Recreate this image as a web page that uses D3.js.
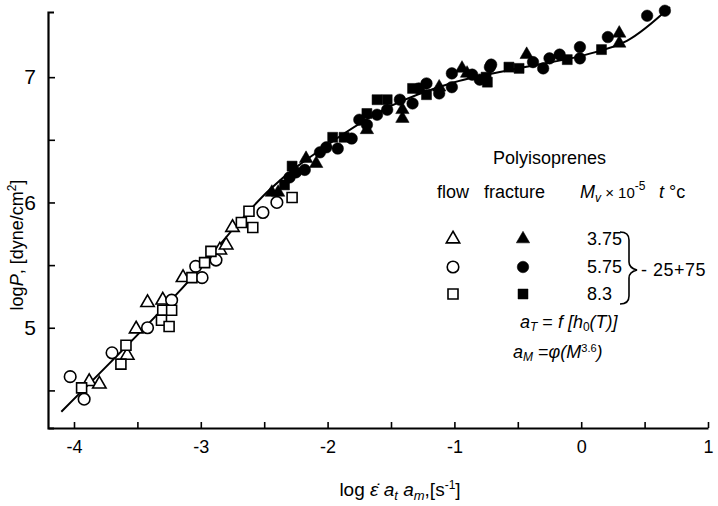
<!DOCTYPE html>
<html><head><meta charset="utf-8">
<script src="https://cdn.jsdelivr.net/npm/d3@7"></script>
<style>
html,body{margin:0;padding:0;background:#fff;}
text{font-family:"Liberation Sans","DejaVu Sans",sans-serif;fill:#000;}
</style></head>
<body>
<svg id="c" width="718" height="506"></svg>
<script>
// ---- data (log strain rate, log stress) ----
const xTicks = [-4,-3.5,-3,-2.5,-2,-1.5,-1,-0.5,0,0.5,1];
const yTicks = [4.5,5,5.5,6,6.5,7];

const flowTriangles = [[-3.88,4.57],[-3.80,4.55],[-3.58,4.78],[-3.51,4.99],[-3.42,5.20],[-3.30,5.22],
  [-3.14,5.40],[-2.85,5.62],[-2.80,5.66],[-2.75,5.80]];
const flowCircles = [[-4.03,4.61],[-3.92,4.43],[-3.70,4.80],[-3.42,5.00],[-3.23,5.22],[-2.99,5.40],
  [-3.04,5.49],[-2.88,5.54],[-2.51,5.92],[-2.40,6.00]];
const flowSquares = [[-3.94,4.52],[-3.59,4.86],[-3.63,4.71],[-3.30,5.14],[-3.23,5.14],[-3.31,5.06],
  [-3.25,5.01],[-3.07,5.40],[-2.97,5.52],[-2.92,5.61],[-2.68,5.84],[-2.59,5.80],[-2.62,5.93],[-2.28,6.04]];

const fracTriangles = [[-2.44,6.08],[-2.39,6.08],[-2.17,6.35],[-2.09,6.31],[-1.69,6.58],[-1.41,6.74],
  [-1.41,6.67],[-1.12,6.92],[-0.94,7.07],[-0.90,7.03],[-0.43,7.18],[0.30,7.35],[0.30,7.27]];
const fracCircles = [[-2.30,6.20],[-2.25,6.24],[-2.18,6.26],[-2.06,6.40],[-2.01,6.44],[-1.92,6.43],
  [-1.81,6.51],[-1.75,6.66],[-1.69,6.62],[-1.61,6.70],[-1.53,6.74],[-1.43,6.82],[-1.33,6.79],
  [-1.28,6.91],[-1.22,6.95],[-1.12,6.87],[-1.02,7.03],[-1.02,6.92],[-0.86,7.02],[-0.80,6.98],
  [-0.72,7.08],[-0.71,7.10],[-0.38,7.12],[-0.30,7.07],[-0.25,7.15],[-0.17,7.18],[-0.01,7.24],
  [-0.01,7.15],[0.21,7.32],[0.52,7.49],[0.66,7.53]];
const fracSquares = [[-2.34,6.14],[-2.28,6.29],[-1.96,6.52],[-1.87,6.52],[-1.69,6.71],[-1.61,6.82],
  [-1.53,6.82],[-1.33,6.91],[-1.22,6.86],[-0.75,7.00],[-0.74,6.96],[-0.57,7.08],[-0.49,7.07],
  [-0.11,7.14],[0.16,7.22]];

const masterCurve = [[-4.10,4.33],[-3.17,5.29],[-2.46,6.10],[-2.00,6.46],[-1.50,6.77],[-1.00,6.96],
  [-0.50,7.07],[0.00,7.17],[0.36,7.29],[0.70,7.56]];

const legendMw = ["3.75","5.75","8.3"];

// ---- drawing ----
const svg = d3.select("#c");
svg.append("rect").attr("width",718).attr("height",506).attr("fill","#fff");

const x = d3.scaleLinear().domain([-4.205,1]).range([48,708]);
const y = d3.scaleLinear().domain([4.2,7.52]).range([428,12]);

const fmt = d => Number.isInteger(d) ? (d<0 ? "-"+Math.abs(d) : String(d)) : "";

const gx = svg.append("g").attr("transform","translate(0,428)")
  .call(d3.axisBottom(x).tickValues(xTicks).tickSizeInner(-6).tickSizeOuter(0).tickPadding(12).tickFormat(fmt));
const gy = svg.append("g").attr("transform","translate(48,0)")
  .call(d3.axisLeft(y).tickValues(yTicks).tickSizeInner(-7).tickSizeOuter(-6).tickPadding(10).tickFormat(fmt));
[gx,gy].forEach(g=>{
  g.select(".domain").attr("stroke","#000").attr("stroke-width",2.2);
  g.selectAll(".tick line").attr("stroke","#000").attr("stroke-width",1.6);
  g.selectAll(".tick text").style("font-family","'Liberation Sans',sans-serif");
});
gx.selectAll(".tick text").attr("font-size",18).attr("dy","0.71em");
gy.selectAll(".tick text").attr("font-size",21).attr("dx","-2");

// master curve
svg.append("path").datum(masterCurve)
  .attr("d", d3.line().x(d=>x(d[0])).y(d=>y(d[1])).curve(d3.curveCatmullRom))
  .attr("fill","none").attr("stroke","#000").attr("stroke-width",2);

const sym = {
  tri: d3.symbol().type(d3.symbolTriangle).size(78),
  cir: d3.symbol().type(d3.symbolCircle).size(105),
  sq:  d3.symbol().type(d3.symbolSquare).size(100)
};
function plot(data, kind, filled){
  svg.append("g").selectAll("path").data(data).join("path")
    .attr("d", sym[kind]())
    .attr("transform", d=>`translate(${x(d[0])},${y(d[1])})`)
    .attr("fill", filled ? "#000" : "#fff")
    .attr("stroke","#000").attr("stroke-width", filled ? 0.5 : 1.6);
}
plot(flowTriangles,"tri",false);
plot(flowCircles,"cir",false);
plot(flowSquares,"sq",false);
plot(fracTriangles,"tri",true);
plot(fracCircles,"cir",true);
plot(fracSquares,"sq",true);

// axis titles
const xl = svg.append("text").attr("x",400).attr("y",496).attr("text-anchor","middle").attr("font-size",19);
xl.append("tspan").text("log ");
xl.append("tspan").attr("font-style","italic").text("ε\u0307");
xl.append("tspan").text(" ");
xl.append("tspan").attr("font-style","italic").text("a");
xl.append("tspan").attr("font-style","italic").attr("font-size",13).attr("dy",4).text("t");
xl.append("tspan").attr("dy",-4).text(" ");
xl.append("tspan").attr("font-style","italic").text("a");
xl.append("tspan").attr("font-style","italic").attr("font-size",13).attr("dy",4).text("m");
xl.append("tspan").attr("dy",-4).text(",[s");
xl.append("tspan").attr("font-size",12).attr("dy",-7).text("-1");
xl.append("tspan").attr("dy",7).text("]");

const yl = svg.append("text").attr("transform","translate(23,245) rotate(-90)").attr("text-anchor","middle").attr("font-size",18);
yl.append("tspan").text("log");
yl.append("tspan").attr("font-style","italic").text("P");
yl.append("tspan").text(", [dyne/cm");
yl.append("tspan").attr("font-size",12).attr("dy",-7).text("2");
yl.append("tspan").attr("dy",7).text("]");

// legend
const L = svg.append("g");
L.append("text").attr("x",493).attr("y",164).attr("font-size",18).text("Polyisoprenes");
L.append("text").attr("x",437).attr("y",198).attr("font-size",18).text("flow");
L.append("text").attr("x",484).attr("y",198).attr("font-size",18).text("fracture");
const mh = L.append("text").attr("x",580).attr("y",198).attr("font-size",18);
mh.append("tspan").attr("font-style","italic").text("M");
mh.append("tspan").attr("font-style","italic").attr("font-size",12).attr("dy",4).text("v");
mh.append("tspan").attr("dy",-4).attr("font-size",15).text(" × 10");
mh.append("tspan").attr("font-size",12).attr("dy",-8).text("-5");
mh.append("tspan").attr("dy",8).attr("x",659).attr("font-style","italic").text("t");
mh.append("tspan").text(" °c");

const legRows = [245,273,300];
const kinds = ["tri","cir","sq"];
kinds.forEach((k,i)=>{
  L.append("path").attr("d",sym[k]()).attr("transform",`translate(453,${legRows[i]-6})`)
    .attr("fill","#fff").attr("stroke","#000").attr("stroke-width",1.6);
  L.append("path").attr("d",sym[k]()).attr("transform",`translate(523,${legRows[i]-6})`)
    .attr("fill","#000").attr("stroke","#000").attr("stroke-width",0.5);
  L.append("text").attr("x",587).attr("y",legRows[i]).attr("font-size",18).text(legendMw[i]);
});
L.append("path").attr("d","M620,232 Q629,232 629,240 L629,262 Q629,268 637,270 Q629,272 629,278 L629,296 Q629,304 620,304")
  .attr("fill","none").attr("stroke","#000").attr("stroke-width",1.6);
L.append("text").attr("x",641).attr("y",276).attr("font-size",18).attr("letter-spacing",0.5).text("- 25+75");

const at = L.append("text").attr("x",520).attr("y",328).attr("font-size",18);
at.append("tspan").attr("font-style","italic").text("a");
at.append("tspan").attr("font-style","italic").attr("font-size",12).attr("dy",3).text("T");
at.append("tspan").attr("dy",-3).text(" =   ");
at.append("tspan").attr("font-style","italic").text("f [h");
at.append("tspan").attr("font-size",12).attr("dy",3).text("0");
at.append("tspan").attr("dy",-3).attr("font-style","italic").text("(T)]");

const am = L.append("text").attr("x",513).attr("y",358).attr("font-size",18);
am.append("tspan").attr("font-style","italic").text("a");
am.append("tspan").attr("font-style","italic").attr("font-size",12).attr("dy",3).text("M");
am.append("tspan").attr("dy",-3).text(" =");
am.append("tspan").attr("font-style","italic").text("φ(M");
am.append("tspan").attr("font-size",11).attr("dy",-6).text("3.6");
am.append("tspan").attr("dy",6).attr("font-style","italic").text(")");
</script>
</body></html>
